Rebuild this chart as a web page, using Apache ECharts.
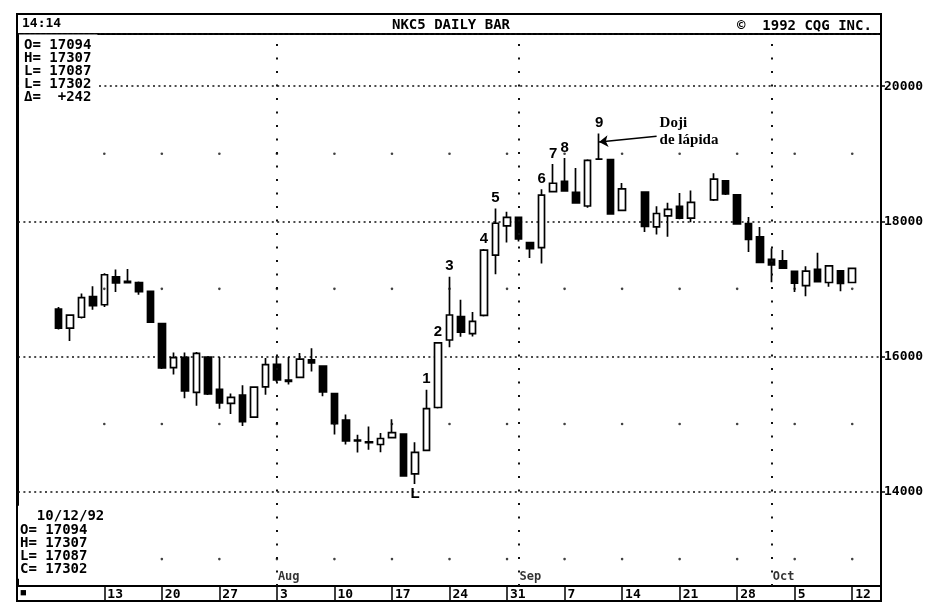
<!DOCTYPE html>
<html><head><meta charset="utf-8">
<script src="https://cdn.jsdelivr.net/npm/echarts@6/dist/echarts.min.js"></script>
<style>html,body{margin:0;padding:0;background:#fff}#c{width:927px;height:607px}</style>
</head><body><div id="c"></div>
<script>
// ---- categories (weekday slots) ----
const padBefore = ['7/2','7/3','7/6'];
const tradeDates = [
 '7/7','7/8','7/9','7/10','7/13','7/14','7/15','7/16','7/17','7/20','7/21','7/22','7/23','7/24','7/27','7/28','7/29','7/30','7/31',
 '8/3','8/4','8/5','8/6','8/7','8/10','8/11','8/12','8/13','8/14','8/17','8/18','8/19','8/20','8/21','8/24','8/25','8/26','8/27','8/28','8/31',
 '9/1','9/2','9/3','9/4','9/7','9/8','9/9','9/10','9/11','9/14','9/15','9/16','9/17','9/18','9/21','9/22','9/23','9/24','9/25','9/28','9/29','9/30',
 '10/1','10/2','10/5','10/6','10/7','10/8','10/9','10/12'];
const padAfter = ['10/13','10/14'];

// ---- OHLC (null = no session) ----
const opens = [16700,16420,16580,16886,16765,17177,17110,17094,16962,16487,
 15833,15987,15469,15990,15513,15304,15429,15102,15549,15882,
 15650,15689,15948,15858,15449,15059,14760,14735,14696,14797,
 14850,14261,14609,15244,16243,16591,16337,16607,17498,17933,
 18060,17683,17609,18440,18590,18430,18226,18920,18913,18161,
 null,18433,17918,18079,18220,18048,null,18316,18600,18390,
 17964,17769,17437,17413,17258,17049,17288,17094,17268,17094];
const closes = [16420,16610,16870,16753,17209,17088,17090,16960,16509,15831,
 15981,15489,16046,15446,15312,15393,15035,15546,15879,15651,
 15630,15960,15905,15473,15005,14748,14750,14725,14785,14871,
 14233,14581,15226,16200,16613,16360,16519,17573,17971,18057,
 17739,17594,18387,18563,18451,18272,18901,18920,18108,18480,
 null,17925,18115,18177,18047,18281,null,18623,18404,17961,
 17732,17390,17353,17305,17086,17261,17106,17339,17082,17302];
const lows = [16400,16230,16560,16690,16730,16955,17085,16912,16495,15815,
 15734,15381,15270,15430,15227,15146,14970,15090,15432,15622,
 15586,15680,15777,15409,14843,14695,14578,14619,14583,14790,
 14220,14113,14600,15230,16135,16292,16295,16590,17217,17687,
 17699,17456,17376,18430,18440,18260,18200,18910,18100,18150,
 null,17841,17804,17773,18030,17984,null,18300,18390,17950,
 17544,17380,17097,17300,16953,16891,17100,17030,16964,17087];
const highs = [16730,16625,16930,17040,17230,17286,17294,17110,16975,16495,
 16059,16058,16065,16000,15990,15452,15575,15560,15978,16006,
 15993,16049,16121,15870,15460,15142,14840,14964,14868,15069,
 14860,14729,15507,16210,17180,16838,16659,17590,18189,18140,
 18070,17690,18476,18849,18935,18790,18920,19300,18920,18565,
 null,18440,18224,18276,18417,18454,null,18711,18610,18400,
 18062,17917,17600,17576,17270,17335,17535,17350,17280,17307];

// ---- axis labels / annotations ----
const weekStarts = ['7/13','7/20','7/27','8/3','8/10','8/17','8/24','8/31','9/7','9/14','9/21','9/28','10/5','10/12'];
const monthStarts = ['8/3','9/1','10/1'];
const monthNames = ['Aug','Sep','Oct'];
const dotLevels = [13000,15000,17000,19000];
const countLabels = ['1','2','3','4','5','6','7','8','9'];
const countDates = ['8/20','8/21','8/24','8/27','8/28','9/3','9/4','9/7','9/10'];
const lowLabel = 'L', lowDate = '8/19';
const dojiText = 'Doji\nde lápida', dojiDate = '9/10', dojiTextDate = '9/17';
const dojiTextLevel = 19320, arrowFrom = 19259, arrowTo = 19173;
const monthLabelLevel = 12740;
const infoTop = 'O= 17094\nH= 17307\nL= 17087\nL= 17302\nΔ=  +242';
const infoBottom = '  10/12/92\nO= 17094\nH= 17307\nL= 17087\nC= 17302';

const categories = padBefore.concat(tradeDates, padAfter);
const candleData = categories.map(d => {
  const i = tradeDates.indexOf(d);
  if (i < 0 || opens[i] == null) return '-';
  return [opens[i], closes[i], lows[i], highs[i]];
});
const hi = d => highs[tradeDates.indexOf(d)];
const lo = d => lows[tradeDates.indexOf(d)];

const mono = 'DejaVu Sans Mono';
const txt = {fontFamily: mono, fontSize: 14, fontWeight: 'bold', color: '#000'};

const markData = countLabels.map((t, k) => ({
  name: t, coord: [countDates[k], hi(countDates[k])],
  label: {position: 'top', distance: 3}
}));
markData.push({name: lowLabel, coord: [lowDate, lo(lowDate)], label: {position: 'bottom', distance: 2}});
markData.push({name: dojiText, coord: [dojiTextDate, dojiTextLevel],
  label: {position: 'right', distance: 3, fontFamily: 'Liberation Serif', fontSize: 15,
          fontWeight: 'bold', lineHeight: 17, align: 'left'}});

const dots = [];
weekStarts.forEach(w => dotLevels.forEach(v => dots.push([w, v])));

const chart = echarts.init(document.getElementById('c'));
chart.setOption({
  animation: false,
  backgroundColor: '#fff',
  title: [
    {text: '14:14', left: 22, top: 17, padding: 0, textStyle: Object.assign({}, txt, {fontSize: 13})},
    {text: 'NKC5 DAILY BAR', left: 392, top: 18, padding: 0, textStyle: txt},
    {text: '©  1992 CQG INC.', left: 737, top: 19, padding: 0, textStyle: txt},
    {text: infoTop, left: 19, top: 35, padding: [4, 6, 4, 5], backgroundColor: '#fff',
     textStyle: Object.assign({}, txt, {lineHeight: 13})},
    {text: infoBottom, left: 15, top: 506, padding: [4, 5, 2, 5], backgroundColor: '#fff',
     textStyle: Object.assign({}, txt, {lineHeight: 13.3})},
    {text: '■', left: 20, top: 587, padding: 0, textStyle: {fontSize: 11, color: '#000'}}
  ],
  graphic: [
    {type: 'rect', z: 100, silent: true, shape: {x: 17, y: 14, width: 864, height: 587},
     style: {fill: null, stroke: '#000', lineWidth: 2}}
  ],
  grid: {left: 18, right: 46, top: 34, bottom: 21, show: true, borderColor: '#000', borderWidth: 2,
         outerBoundsMode: 'none', containLabel: false},
  xAxis: {
    type: 'category', data: categories, boundaryGap: true,
    axisLine: {show: true, lineStyle: {color: '#000', width: 2}},
    axisTick: {show: true, alignWithLabel: true, length: 15,
      interval: (idx, val) => weekStarts.includes(val), lineStyle: {color: '#000', width: 1.5}},
    axisLabel: {show: true, interval: (idx, val) => weekStarts.includes(val),
      formatter: v => v.split('/')[1], align: 'left', padding: [0, 0, 0, 3], margin: 2,
      verticalAlign: 'top', lineHeight: 13, color: '#000', fontFamily: mono, fontSize: 13, fontWeight: 'bold'},
    splitLine: {show: false}
  },
  yAxis: {
    type: 'value', position: 'right', min: 12602, max: 20772, splitNumber: 4,
    minInterval: 2000, maxInterval: 2000, scale: true,
    axisLine: {show: true, lineStyle: {color: '#000', width: 2}},
    axisTick: {show: true, length: 4, lineStyle: {color: '#000', width: 1.5}},
    axisLabel: {show: true, margin: 3, color: '#000', fontFamily: mono, fontSize: 13, fontWeight: 'bold',
      showMinLabel: false, showMaxLabel: false, formatter: v => String(v)},
    splitLine: {show: true, lineStyle: {color: '#111', width: 1.6, type: [2, 3.4]}}
  },
  series: [
    {
      type: 'candlestick', name: 'NKC5', data: candleData, barWidth: 7,
      itemStyle: {color: '#fff', color0: '#000', borderColor: '#000', borderColor0: '#000', borderWidth: 1.7},
      markPoint: {
        symbol: 'circle', symbolSize: 0, silent: true,
        label: {show: true, formatter: p => p.name, color: '#000', fontFamily: 'Liberation Sans',
                fontSize: 15, fontWeight: 'bold'},
        data: markData
      },
      markLine: {
        silent: true, symbol: ['none', 'arrow'], symbolSize: 9,
        label: {show: false},
        lineStyle: {color: '#000', type: 'solid', width: 1.5},
        data: [[{coord: [dojiTextDate, arrowFrom]}, {coord: [dojiDate, arrowTo]}]]
      }
    },
    {
      type: 'scatter', name: 'dots', data: dots, symbolSize: 2.6, silent: true,
      itemStyle: {color: '#111'},
      markLine: {
        silent: true, symbol: ['none', 'none'], label: {show: false},
        lineStyle: {color: '#111', type: [2, 11.5], width: 2},
        data: monthStarts.map(m => ({xAxis: m}))
      }
    },
    {
      type: 'scatter', name: 'months', symbolSize: 0, silent: true,
      data: monthStarts.map((m, k) => ({name: monthNames[k], value: [m, monthLabelLevel]})),
      label: {show: true, position: 'right', distance: 1, formatter: p => p.name, color: '#000',
              fontFamily: mono, fontSize: 12, fontWeight: 'bold'}
    }
  ]
});
</script></body></html>
